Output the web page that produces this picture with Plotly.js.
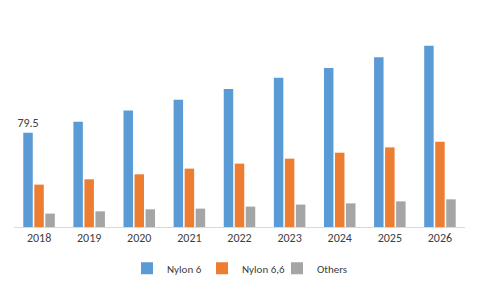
<!DOCTYPE html>
<html>
<head>
<meta charset="utf-8">
<script src="https://cdn.plot.ly/plotly-3.0.1.min.js"></script>
<style>html,body{margin:0;padding:0;background:#fff;}#chart{width:479px;height:287px;}</style>
</head>
<body>
<div id="chart"></div>
<script>
const years = ['2018','2019','2020','2021','2022','2023','2024','2025','2026'];
const nylon6 = [79.5, 88.7, 98.2, 107.3, 116.2, 125.8, 133.9, 143.1, 152.7];
const nylon66 = [35.7, 40.2, 44.4, 49.2, 53.4, 57.6, 62.6, 67.1, 71.9];
const others = [11.3, 13.2, 14.9, 15.5, 17.2, 18.9, 19.9, 21.6, 23.3];
const seriesNames = ['Nylon 6', 'Nylon 6,6', 'Others'];

const fam = 'Carlito, "Liberation Sans", "Open Sans", sans-serif';
const traces = [
  {type:'bar', name:seriesNames[0], x:years, y:nylon6, marker:{color:'#5B9BD5'},
   text: nylon6.map((v,i)=> i===0 ? String(v) : ''), textposition:'outside', cliponaxis:false,
   constraintext:'none', textfont:{family:fam, size:12, color:'#404040'}},
  {type:'bar', name:seriesNames[1], x:years, y:nylon66, marker:{color:'#ED7D31'}},
  {type:'bar', name:seriesNames[2], x:years, y:others, marker:{color:'#A5A5A5'}}
];
const layout = {
  width:479, height:287,
  margin:{l:14, r:14, t:30, b:60, autoexpand:false},
  paper_bgcolor:'#fff', plot_bgcolor:'#fff',
  barmode:'group', bargap:0.34, bargroupgap:0.14,
  font: {family:fam, size:11, color:'#404040'},
  showlegend:true,
  legend:{orientation:'h', x:0.5, xanchor:'center', y:-0.21, yanchor:'middle', font:{family:fam, size:11, color:'#404040'}, itemwidth:30, entrywidth:30, tracegroupgap:0},
  xaxis:{type:'category', tickmode:'array', tickvals:years, ticktext:years, showline:true, linecolor:'#d9d9d9', linewidth:1, ticks:'', tickfont:{family:fam, size:12, color:'#404040'}, fixedrange:true},
  yaxis:{visible:false, range:[0,166], showgrid:false, zeroline:false, fixedrange:true},
  hovermode:false
};
Plotly.newPlot('chart', traces, layout, {displayModeBar:false, staticPlot:true});
</script>
</body>
</html>
